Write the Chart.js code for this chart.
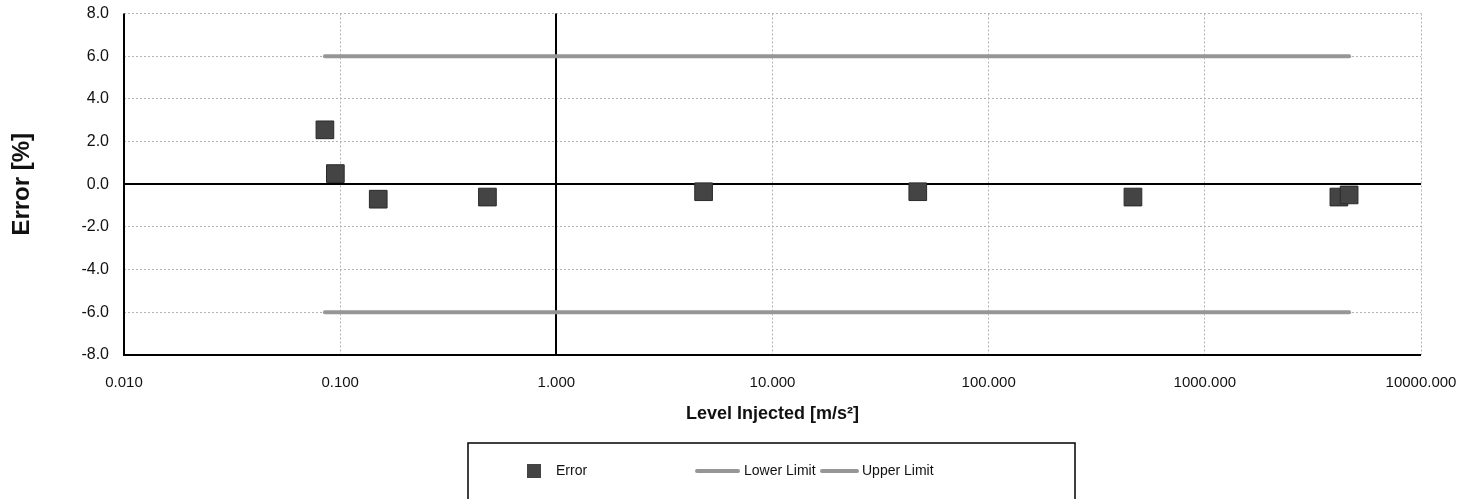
<!DOCTYPE html>
<html>
<head>
<meta charset="utf-8">
<script src="https://cdn.jsdelivr.net/npm/chart.js@4.4.1/dist/chart.umd.min.js"></script>
<style>
  html, body { margin: 0; padding: 0; background: #fff; }
</style>
</head>
<body>
<canvas id="errChart" width="1479" height="499"></canvas>
<script>
// === Data ===
const levelInjected = [0.085, 0.095, 0.15, 0.48, 4.8, 47, 465, 4170, 4650];
const errorPct      = [2.55, 0.5, -0.7, -0.6, -0.35, -0.35, -0.6, -0.6, -0.5];
const lowerLimit    = [-6, -6, -6, -6, -6, -6, -6, -6, -6];
const upperLimit    = [6, 6, 6, 6, 6, 6, 6, 6, 6];
const xTickValues   = [0.01, 0.1, 1, 10, 100, 1000, 10000];
const yTickValues   = [-8, -6, -4, -2, 0, 2, 4, 6, 8];

const toPoints = (xs, ys) => xs.map((x, i) => ({ x: x, y: ys[i] }));

const FONT = "'Liberation Sans', Arial, sans-serif";
const gridGray = "#b4b4b4";

// === Black crossing lines (x = 1, y = 0) and the plot border ===
const axisLines = {
    id: "axisLines",
    beforeDatasetsDraw(chart) {
        const { ctx, chartArea: a, scales: { x, y } } = chart;
        ctx.save();
        ctx.strokeStyle = "#000";
        ctx.lineWidth = 2;
        const x1 = Math.round(x.getPixelForValue(1));
        const y0 = Math.round(y.getPixelForValue(0));
        ctx.beginPath();
        ctx.moveTo(x1, a.top); ctx.lineTo(x1, a.bottom);
        ctx.moveTo(a.left, y0); ctx.lineTo(a.right, y0);
        ctx.moveTo(a.left, a.top); ctx.lineTo(a.left, a.bottom); ctx.lineTo(a.right, a.bottom);
        ctx.stroke();
        ctx.restore();
    }
};

// === Boxed legend under the x title ===
const boxLegend = {
    id: "boxLegend",
    afterDraw(chart) {
        const { ctx } = chart;
        const ds = chart.data.datasets;
        const boxX = 468, boxY = 443, boxW = 607, boxH = 60;
        const cy = 471;
        ctx.save();
        ctx.strokeStyle = "#000";
        ctx.lineWidth = 1.5;
        ctx.strokeRect(boxX, boxY, boxW, boxH);

        ctx.font = "14px " + FONT;
        ctx.fillStyle = "#111";
        ctx.textBaseline = "middle";
        ctx.textAlign = "left";

        // Error marker
        ctx.fillStyle = ds[0].backgroundColor;
        ctx.fillRect(527, cy - 7, 14, 14);
        ctx.fillStyle = "#111";
        ctx.fillText(ds[0].label, 556, cy);

        // Limit lines
        const items = [[ds[1], 697, 738, 744], [ds[2], 822, 857, 862]];
        items.forEach(([d, l0, l1, tx]) => {
            ctx.strokeStyle = d.borderColor;
            ctx.lineWidth = 4;
            ctx.lineCap = "round";
            ctx.beginPath();
            ctx.moveTo(l0, cy); ctx.lineTo(l1, cy);
            ctx.stroke();
            ctx.fillStyle = "#111";
            ctx.fillText(d.label, tx, cy);
        });
        ctx.restore();
    }
};

const chart = new Chart(document.getElementById("errChart").getContext("2d"), {
    type: "scatter",
    data: {
        datasets: [
            {
                label: "Error",
                data: toPoints(levelInjected, errorPct),
                pointStyle: "rect",
                pointRadius: 12.5,
                backgroundColor: "#444444",
                borderColor: "#2a2a2a",
                borderWidth: 1,
                showLine: false,
                order: 0
            },
            {
                label: "Lower Limit",
                data: toPoints(levelInjected, lowerLimit),
                showLine: true,
                borderColor: "#969696",
                borderWidth: 4,
                borderCapStyle: "round",
                pointRadius: 0,
                order: 1
            },
            {
                label: "Upper Limit",
                data: toPoints(levelInjected, upperLimit),
                showLine: true,
                borderColor: "#969696",
                borderWidth: 4,
                borderCapStyle: "round",
                pointRadius: 0,
                order: 1
            }
        ]
    },
    options: {
        responsive: false,
        animation: false,
        devicePixelRatio: 1,
        layout: { padding: { top: 13, right: 58, bottom: 74, left: 0 } },
        plugins: {
            legend: { display: false },
            tooltip: { enabled: false }
        },
        scales: {
            x: {
                type: "logarithmic",
                min: 0.01,
                max: 10000,
                afterBuildTicks: s => { s.ticks = xTickValues.map(v => ({ value: v })); },
                afterFit: s => { s.height = 70; },
                ticks: {
                    autoSkip: false,
                    maxRotation: 0,
                    padding: 19,
                    color: "#111",
                    font: { family: FONT, size: 15 },
                    callback: v => Number(v).toFixed(3)
                },
                grid: { color: gridGray, lineWidth: 1, drawTicks: false },
                border: { display: false, dash: [2, 2] },
                title: {
                    display: true,
                    text: "Level Injected [m/s²]",
                    color: "#111",
                    font: { family: FONT, size: 18, weight: "bold" },
                    padding: { top: 6, bottom: 0 }
                }
            },
            y: {
                type: "linear",
                min: -8,
                max: 8,
                afterBuildTicks: s => { s.ticks = yTickValues.map(v => ({ value: v })); },
                afterFit: s => { s.width = 124; s.paddingTop = 0; s.paddingBottom = 0; },
                ticks: {
                    padding: 15,
                    color: "#111",
                    font: { family: FONT, size: 16 },
                    callback: v => Number(v).toFixed(1)
                },
                grid: { color: gridGray, lineWidth: 1, drawTicks: false },
                border: { display: false, dash: [2, 2] },
                title: {
                    display: true,
                    text: "Error [%]",
                    color: "#111",
                    font: { family: FONT, size: 24, weight: "bold" },
                    padding: { top: 8, bottom: 0 }
                }
            }
        }
    },
    plugins: [axisLines, boxLegend]
});
</script>
</body>
</html>
